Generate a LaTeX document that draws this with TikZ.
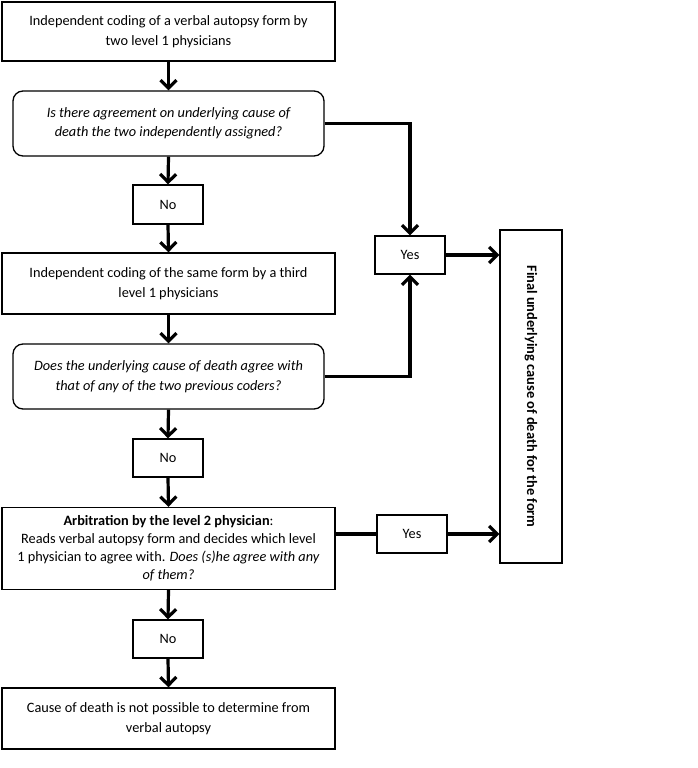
\documentclass[tikz,border=0pt]{standalone}
\usepackage{fontspec}
\setmainfont{Carlito}
\usetikzlibrary{arrows.meta}
\begin{document}
\begin{tikzpicture}[x=1pt,y=-1pt,
  every node/.style={font=\fontsize{14.3}{19.5}\selectfont, align=center, inner sep=0pt},
  boxA/.style={draw, line width=1.3pt, minimum width=333pt},
  decis/.style={draw, line width=1.3pt, rounded corners=10pt, minimum width=311pt, minimum height=65pt},
  small/.style={draw, line width=1.3pt, minimum width=70pt, minimum height=38pt},
  conn/.style={line width=3.2pt},
  arr/.style={conn, -{Straight Barb[length=8pt,width=16pt]}}
]
\useasboundingbox (0,0) rectangle (697,768);
\node[boxA, minimum height=59pt] (b1) at (168.5,31.5) {Independent coding of a verbal autopsy form by\\two level 1 physicians};
\node[decis] (d1) at (168.5,123.5) {\itshape Is there agreement on underlying cause of\\\itshape death the two independently assigned?};
\node[small, minimum height=39pt] (n1) at (168,204.5) {No};
\node[boxA, minimum height=61pt] (b3) at (168.5,283.5) {Independent coding of the same form by a third\\level 1 physicians};
\node[decis] (d2) at (168.5,376.5) {\itshape Does the underlying cause of death agree with\\\itshape that of any of the two previous coders?};
\node[small] (n2) at (168,458) {No};
\node[boxA, minimum height=82pt, font=\fontsize{14.3}{18}\selectfont] (b4) at (168.5,548.5) {\textbf{Arbitration by the level 2 physician}:\\Reads verbal autopsy form and decides which level\\1 physician to agree with. \textit{Does (s)he agree with any}\\\textit{of them?}};
\node[small] (n3) at (168,639) {No};
\node[boxA, minimum height=61pt] (b5) at (168.5,718.5) {Cause of death is not possible to determine from\\verbal autopsy};
\node[small] (y1) at (410,255) {Yes};
\node[small] (y2) at (412,534) {Yes};
\node[draw, line width=1.3pt, minimum width=62pt, minimum height=333pt] (f) at (531,396.5) {};
\node[rotate=-90, font=\bfseries\fontsize{14.4}{17}\selectfont] (ft) at (f.center) {Final underlying cause of death for the form};

\draw[arr] (b1.south) -- (d1.north);
\draw[arr] (d1.south) -- (n1.north);
\draw[arr] (n1.south) -- (b3.north);
\draw[arr] (b3.south) -- (d2.north);
\draw[arr] (d2.south) -- (n2.north);
\draw[arr] (n2.south) -- (b4.north);
\draw[arr] (b4.south) -- (n3.north);
\draw[arr] (n3.south) -- (b5.north);
\draw[arr] (d1.east) -| (y1.north);
\draw[arr] (d2.east) -| (y1.south);
\draw[arr] (y1.east) -- (f.west |- y1.east);
\draw[conn] (b4.east |- y2.west) -- (y2.west);
\draw[arr] (y2.east) -- (f.west |- y2.east);
\end{tikzpicture}
\end{document}
